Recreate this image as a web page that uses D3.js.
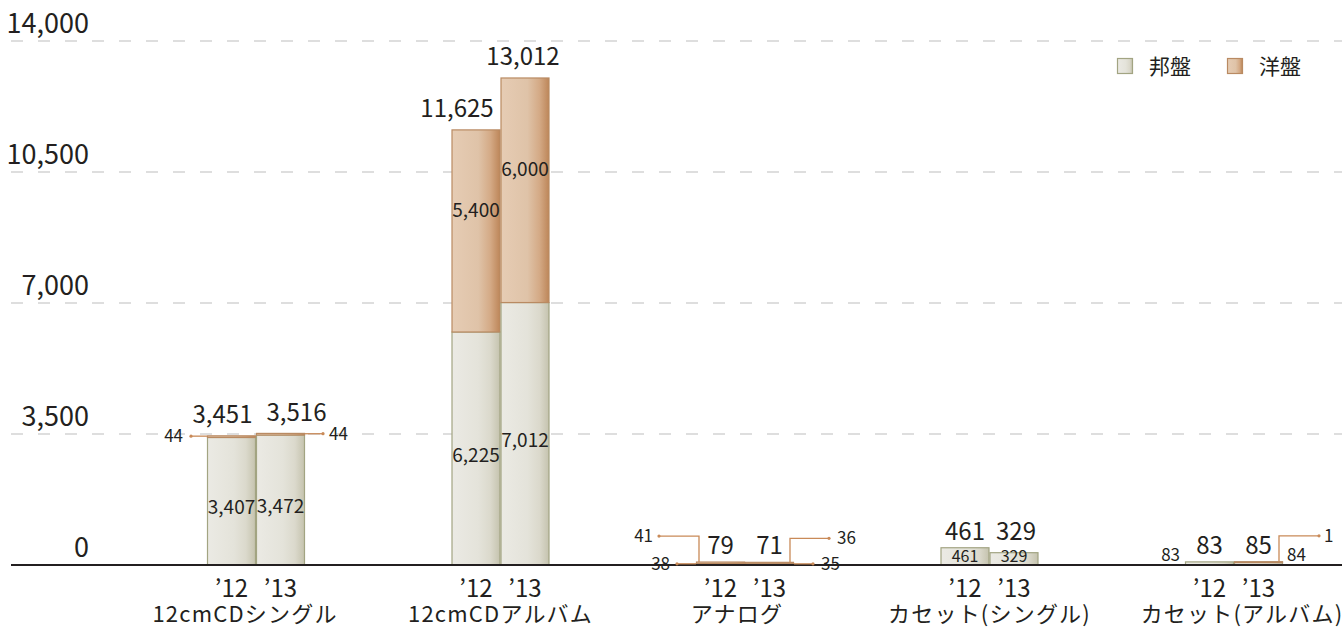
<!DOCTYPE html>
<html lang="ja">
<head>
<meta charset="utf-8">
<script src="https://cdn.jsdelivr.net/npm/d3@7"></script>
<style>
  html, body { margin: 0; padding: 0; background: #fff; }
  svg { display: block; }
  text { fill: #231f20; font-family: "Noto Sans CJK JP", "Noto Sans", sans-serif; }
</style>
</head>
<body>
<svg id="chart" width="1342" height="627"></svg>
<script>
// Units sold per format, 2012 vs 2013
const categories = ["12cmCDシングル", "12cmCDアルバム", "アナログ", "カセット(シングル)", "カセット(アルバム)"];
const years = ["’12", "’13"];
const seriesNames = ["邦盤", "洋盤"];
// domestic (邦盤) per category: [2012, 2013]
const domestic = [[3407, 3472], [6225, 7012], [38, 35], [461, 329], [83, 84]];
// international (洋盤) per category: [2012, 2013]
const international = [[44, 44], [5400, 6000], [41, 36], [0, 0], [0, 1]];
// totals shown above each bar
const totals = [[3451, 3516], [11625, 13012], [79, 71], [461, 329], [83, 85]];
const yTicks = [0, 3500, 7000, 10500, 14000];

const W = 1342, H = 627;
const svg = d3.select("#chart");

const defs = svg.append("defs");
function grad(id, stops) {
  const g = defs.append("linearGradient").attr("id", id)
    .attr("x1", "0%").attr("x2", "100%").attr("y1", "0%").attr("y2", "0%");
  stops.forEach(([o, c]) => g.append("stop").attr("offset", o).attr("stop-color", c));
}
grad("gDom", [["0%", "#ebeae4"], ["55%", "#e4e3da"], ["80%", "#dbd9cc"], ["100%", "#c5c3ae"]]);
grad("gInt", [["0%", "#e6ccb4"], ["55%", "#dfc3a8"], ["80%", "#d4aa86"], ["100%", "#bd8659"]]);
const fills = ["url(#gDom)", "url(#gInt)"];
const strokes = ["#a2a482", "#b98a62"];
const lineColor = "#c98a58";
const fmt = d3.format(",");

const y = d3.scaleLinear().domain([0, 14000]).range([565, 41]);
const x = d3.scaleBand().domain(categories).range([133.75, 1356.25]).padding(0);
const barW = 49;
const xi = d3.scaleBand().domain(years)
  .range([x.bandwidth() / 2 - barW, x.bandwidth() / 2 + barW]).padding(0);

// horizontal nudges that keep neighbouring labels apart
const totalNudge = [[-9, 16], [-19, -2], [0, 0], [0, 2], [0, 0]];
const catNudge = [-11, 0, -8, 0, 8];

// gridlines + y labels
const grid = svg.append("g");
yTicks.filter(t => t > 0).forEach(t => {
  grid.append("line").attr("x1", 11).attr("x2", W).attr("y1", y(t)).attr("y2", y(t))
    .attr("stroke", "#d4d4d4").attr("stroke-width", 1.6).attr("stroke-dasharray", "12,15");
});
const yAxis = d3.axisLeft(y).tickValues(yTicks).tickSize(0).tickFormat(fmt);
const ya = svg.append("g").attr("transform", "translate(89,-9)").call(yAxis);
ya.select(".domain").remove();
ya.selectAll("text").attr("font-size", 27).attr("dy", 0).attr("x", 0)
  .attr("font-family", "'Noto Sans CJK JP', sans-serif").attr("fill", "#231f20");

// bars
const stacked = [];
categories.forEach((c, ci) => {
  years.forEach((yr, yi) => {
    const d0 = domestic[ci][yi], d1 = international[ci][yi];
    stacked.push({ c, ci, yr, yi, s: 0, v: d0, y0: 0, y1: d0 });
    stacked.push({ c, ci, yr, yi, s: 1, v: d1, y0: d0, y1: d0 + d1 });
  });
});
const bx = d => x(d.c) + xi(d.yr);
const bars = svg.append("g");
bars.selectAll("rect").data(stacked.filter(d => d.v > 0)).join("rect")
  .attr("x", d => bx(d) + 0.5)
  .attr("width", barW - 1)
  .attr("y", d => y(d.y1))
  .attr("height", d => Math.max(0.8, y(d.y0) - y(d.y1)))
  .attr("fill", d => fills[d.s])
  .attr("stroke", d => strokes[d.s])
  .attr("stroke-width", 1.2);

// baseline
svg.append("line").attr("x1", 11).attr("x2", W).attr("y1", y(0)).attr("y2", y(0))
  .attr("stroke", "#231f20").attr("stroke-width", 1.8);

// value labels inside segments tall enough to hold them
const labels = svg.append("g");
stacked.filter(d => y(d.y0) - y(d.y1) > 10).forEach(d => {
  const mid = (y(d.y0) + y(d.y1)) / 2;
  const h = y(d.y0) - y(d.y1);
  let base = Math.min(mid + 6, y(d.y0) - 3);
  if (h > 60) base = d.s === 0 ? mid + 13 : mid - 14;
  labels.append("text").attr("x", bx(d) + barW / 2).attr("y", base)
    .attr("text-anchor", "middle").attr("font-size", h > 60 ? 19 : 16)
    .text(fmt(d.v));
});

// small segments: labels placed beside the bar, with leader lines
// side: -1 left / +1 right; rise: elbow height above bar top; len: leader length
const callouts = [
  { ci: 0, yi: 0, s: 1, side: -1, rise: 0, len: 16, gap: 8, line: true },
  { ci: 0, yi: 1, s: 1, side: 1, rise: 0, len: 18, gap: 6, line: true },
  { ci: 2, yi: 0, s: 1, side: -1, rise: 26, len: 40, gap: 6, line: true },
  { ci: 2, yi: 0, s: 0, side: -1, rise: 0, len: 19, gap: 7, line: true },
  { ci: 2, yi: 1, s: 1, side: 1, rise: 24, len: 39, gap: 8, line: true },
  { ci: 2, yi: 1, s: 0, side: 1, rise: 0, len: 19, gap: 8, line: true },
  { ci: 4, yi: 0, s: 0, side: -1, rise: 0, len: 0, gap: 5, line: false, dy: -8 },
  { ci: 4, yi: 1, s: 1, side: 1, rise: 26, len: 40, gap: 5, line: true },
  { ci: 4, yi: 1, s: 0, side: 1, rise: 0, len: 0, gap: 4, line: false, dy: -8 }
];
const call = svg.append("g");
callouts.forEach(o => {
  const d = stacked.find(e => e.ci === o.ci && e.yi === o.yi && e.s === o.s);
  const left = bx(d), right = bx(d) + barW;
  const top = y(d.y1), mid = (y(d.y0) + y(d.y1)) / 2;
  let endX, endY;
  if (o.rise > 0) {
    const vx = o.side < 0 ? left + 3 : right - 4;
    endY = top - o.rise;
    endX = vx + o.side * o.len;
    call.append("path")
      .attr("d", `M${vx},${top} V${endY} H${endX}`)
      .attr("fill", "none").attr("stroke", lineColor).attr("stroke-width", 1.3);
  } else {
    const sx = o.side < 0 ? left : right;
    endY = o.line ? mid - 0.5 : mid;
    endX = sx + o.side * o.len;
    if (o.line) {
      call.append("line").attr("x1", sx).attr("x2", endX).attr("y1", endY).attr("y2", endY)
        .attr("stroke", lineColor).attr("stroke-width", 1.3);
    }
  }
  if (o.line) call.append("circle").attr("cx", endX).attr("cy", endY).attr("r", 1.6).attr("fill", lineColor);
  call.append("text")
    .attr("x", endX + o.side * o.gap)
    .attr("y", endY + (o.dy || 0))
    .attr("dy", "0.34em")
    .attr("text-anchor", o.side < 0 ? "end" : "start")
    .attr("font-size", 17)
    .text(fmt(d.v));
});

// totals above bars; short bars in a group share one baseline
const tot = svg.append("g");
categories.forEach((c, ci) => {
  const pair = totals[ci];
  const small = pair.every(t => t < 1000);
  const shared = d3.min(pair, t => y(t) - 8);
  years.forEach((yr, yi) => {
    const t = pair[yi];
    tot.append("text")
      .attr("x", x(c) + xi(yr) + barW / 2 + totalNudge[ci][yi])
      .attr("y", small ? shared : y(t) - 12.5)
      .attr("text-anchor", "middle").attr("font-size", 24)
      .text(fmt(t));
  });
});

// x axis: year ticks and category names
const xa = svg.append("g");
categories.forEach((c, ci) => {
  years.forEach(yr => {
    xa.append("text").attr("x", x(c) + xi(yr) + barW / 2).attr("y", 597)
      .attr("text-anchor", "middle").attr("font-size", 24).text(yr);
  });
  xa.append("text").attr("x", x(c) + x.bandwidth() / 2 + catNudge[ci]).attr("y", 622)
    .attr("text-anchor", "middle").attr("font-size", 22).attr("letter-spacing", 1.2).text(c);
});

// legend
const lg = svg.append("g");
seriesNames.forEach((n, i) => {
  const lx = 1117 + i * 110;
  lg.append("rect").attr("x", lx + 0.5).attr("y", 58.5).attr("width", 15).attr("height", 15)
    .attr("fill", fills[i]).attr("stroke", strokes[i]).attr("stroke-width", 1.2);
  lg.append("text").attr("x", lx + 32).attr("y", 74)
    .attr("font-size", 21).text(n);
});
</script>
</body>
</html>
